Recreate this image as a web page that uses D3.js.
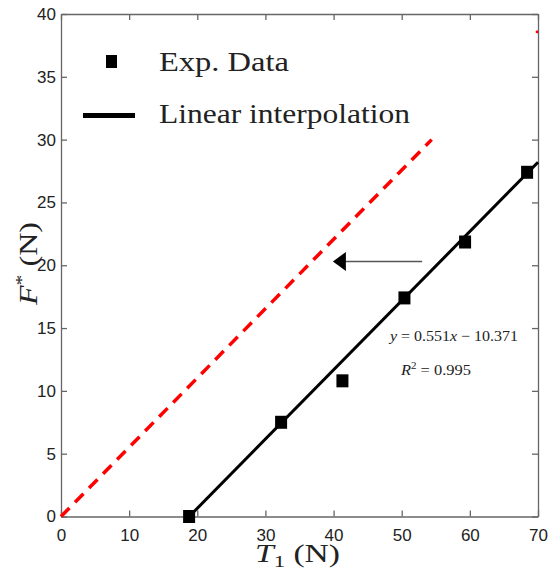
<!DOCTYPE html>
<html>
<head>
<meta charset="utf-8">
<script src="https://cdn.jsdelivr.net/npm/d3@7"></script>
<style>
  body { margin: 0; background: #fff; }
  .tick text { font-family: "Liberation Sans Narrow", "Arial Narrow", "Liberation Sans", sans-serif; font-size: 17px; fill: #222; }
  .axis path, .axis line { stroke: #666; stroke-width: 1.3; }
  .serif { font-family: "Liberation Serif", "DejaVu Serif", serif; fill: #222; }
</style>
</head>
<body>
<div id="chart"></div>
<script>
// data
const expT1 = [18.8, 32.3, 41.3, 50.4, 59.3, 68.4];
const expF = [0, 7.5, 10.8, 17.4, 21.85, 27.4];
const fitT1 = [18.82, 70];
const fitF = [0, 28.2];
const shiftT1 = [0, 54.4];
const shiftF = [0, 30.0];
const shiftEnd = [70, 38.57];
const arrowFrom = [53, 20.3];
const arrowTo = [39.9, 20.3];
const xTicks = [0, 10, 20, 30, 40, 50, 60, 70];
const yTicks = [0, 5, 10, 15, 20, 25, 30, 35, 40];

var width = 548, height = 578;
var margin = { top: 14, right: 10, bottom: 61.5, left: 61 };

var svg = d3.select("#chart").append("svg")
  .attr("width", width)
  .attr("height", height);

var x = d3.scaleLinear().domain([0, 70]).range([margin.left, width - margin.right]);
var y = d3.scaleLinear().domain([0, 40]).range([height - margin.bottom, margin.top]);

// axes, ticks pointing inward
svg.append("g")
  .attr("class", "axis")
  .attr("transform", `translate(0, ${y(0)})`)
  .call(d3.axisBottom(x).tickValues(xTicks).tickSize(-6).tickSizeOuter(0).tickPadding(12));
svg.append("g")
  .attr("class", "axis")
  .attr("transform", `translate(${x(0)}, 0)`)
  .call(d3.axisLeft(y).tickValues(yTicks).tickSize(-6).tickSizeOuter(0).tickPadding(5));
svg.append("g")
  .attr("class", "axis")
  .attr("transform", `translate(0, ${y(40)})`)
  .call(d3.axisTop(x).tickValues(xTicks).tickSize(-6).tickSizeOuter(0).tickFormat(""));
svg.append("g")
  .attr("class", "axis")
  .attr("transform", `translate(${x(70)}, 0)`)
  .call(d3.axisRight(y).tickValues(yTicks).tickSize(-6).tickSizeOuter(0).tickFormat(""));

// red dashed line
var line = d3.line().x(d => x(d[0])).y(d => y(d[1]));
svg.append("path")
  .attr("d", line(d3.zip(shiftT1, shiftF)))
  .attr("fill", "none")
  .attr("stroke", "#ff0000")
  .attr("stroke-width", 3.5)
  .attr("stroke-dasharray", "12,8");
svg.append("circle")
  .attr("cx", x(shiftEnd[0]) - 1)
  .attr("cy", y(shiftEnd[1]))
  .attr("r", 1.4)
  .attr("fill", "#ff0000");

// fit line
svg.append("path")
  .attr("d", line(d3.zip(fitT1, fitF)))
  .attr("fill", "none")
  .attr("stroke", "#000")
  .attr("stroke-width", 3);

// exp data squares
svg.selectAll("rect.pt")
  .data(d3.zip(expT1, expF))
  .enter()
  .append("rect")
  .attr("class", "pt")
  .attr("x", d => x(d[0]) - 6)
  .attr("y", d => y(d[1]) - 6.5)
  .attr("width", 12)
  .attr("height", 13)
  .attr("fill", "#000");

// arrow
svg.append("line")
  .attr("x1", x(arrowFrom[0]))
  .attr("y1", y(arrowFrom[1]))
  .attr("x2", x(arrowTo[0]) + 12)
  .attr("y2", y(arrowTo[1]))
  .attr("stroke", "#555")
  .attr("stroke-width", 1.5);
var tipX = x(arrowTo[0]), tipY = y(arrowTo[1]);
svg.append("path")
  .attr("d", `M${tipX},${tipY} L${tipX + 13},${tipY - 9.5} L${tipX + 13},${tipY + 9.5} Z`)
  .attr("fill", "#000");

// annotation
var eq = svg.append("text")
  .attr("class", "serif")
  .attr("x", 390)
  .attr("y", 341)
  .attr("font-size", 15)
  .attr("textLength", 128)
  .attr("lengthAdjust", "spacingAndGlyphs");
eq.append("tspan").attr("font-style", "italic").text("y");
eq.append("tspan").text(" = 0.551");
eq.append("tspan").attr("font-style", "italic").text("x");
eq.append("tspan").text(" − 10.371");

var r2 = svg.append("text")
  .attr("class", "serif")
  .attr("x", 401)
  .attr("y", 375)
  .attr("font-size", 15)
  .attr("textLength", 70)
  .attr("lengthAdjust", "spacingAndGlyphs");
r2.append("tspan").attr("font-style", "italic").text("R");
r2.append("tspan").attr("font-size", 10).attr("dy", -6).text("2");
r2.append("tspan").attr("dy", 6).text(" = 0.995");

// legend
var legend = svg.append("g").attr("id", "legend");
legend.append("rect")
  .attr("x", 106)
  .attr("y", 55)
  .attr("width", 11)
  .attr("height", 13)
  .attr("fill", "#000");
legend.append("line")
  .attr("x1", 83)
  .attr("x2", 135)
  .attr("y1", 115.5)
  .attr("y2", 115.5)
  .attr("stroke", "#000")
  .attr("stroke-width", 5);
legend.append("text")
  .attr("class", "serif")
  .attr("x", 159)
  .attr("y", 70.5)
  .attr("font-size", 28)
  .attr("textLength", 130)
  .attr("lengthAdjust", "spacingAndGlyphs")
  .text("Exp. Data");
legend.append("text")
  .attr("class", "serif")
  .attr("x", 159)
  .attr("y", 123)
  .attr("font-size", 28)
  .attr("textLength", 251)
  .attr("lengthAdjust", "spacingAndGlyphs")
  .text("Linear interpolation");

// axis titles
var xl = svg.append("text")
  .attr("class", "serif")
  .attr("x", 255)
  .attr("y", 562)
  .attr("font-size", 25)
  .attr("textLength", 85)
  .attr("lengthAdjust", "spacingAndGlyphs");
xl.append("tspan").attr("font-style", "italic").text("T");
xl.append("tspan").attr("font-size", 17).attr("dy", 5).text("1");
xl.append("tspan").attr("dy", -5).text(" (N)");

var yl = svg.append("text")
  .attr("class", "serif")
  .attr("transform", "translate(37, 305) rotate(-90)")
  .attr("x", 0)
  .attr("y", 0)
  .attr("font-size", 25)
  .attr("textLength", 83)
  .attr("lengthAdjust", "spacingAndGlyphs");
yl.append("tspan").attr("font-style", "italic").text("F");
yl.append("tspan").attr("font-size", 17).attr("dy", -10).text("*");
yl.append("tspan").attr("dy", 10).text(" (N)");
</script>
</body>
</html>
